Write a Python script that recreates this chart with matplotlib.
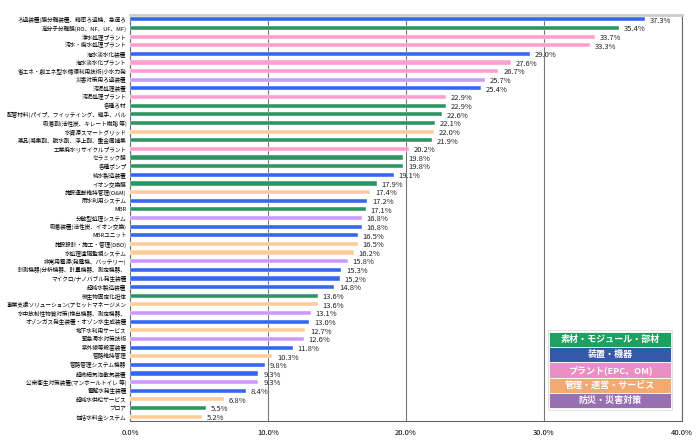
import matplotlib
matplotlib.use("Agg")
import matplotlib.pyplot as plt
from matplotlib.patches import Rectangle

plt.rcParams['font.family'] = ['Noto Sans CJK JP', 'DejaVu Sans']

labels = [
    "ろ過装置(膜分離装置、精密ろ過機、急速ろ",
    "高分子分離膜(RO、NF、UF、MF)",
    "浄水処理プラント",
    "汚水・廃水処理プラント",
    "海水淡水化装置",
    "海水淡水化プラント",
    "省エネ・創エネ型水循環利用技術(小水力発",
    "災害対策用ろ過装置",
    "汚泥処理装置",
    "汚泥処理プラント",
    "各種ろ材",
    "配管材料(パイプ、フィッティング、継手、バル",
    "吸着剤(活性炭、キレート樹脂 等)",
    "水資源スマートグリッド",
    "薬品(凝集剤、脱水剤、浮上剤、重金属捕集",
    "工業廃水リサイクルプラント",
    "セラミック膜",
    "各種ポンプ",
    "純水製造装置",
    "イオン交換膜",
    "施設運転維持管理(O&M)",
    "雨水利用システム",
    "MBR",
    "分散型処理システム",
    "吸着装置(活性炭、イオン交換)",
    "MBRユニット",
    "施設設計・施工・管理(DBO)",
    "水処理遠隔監視システム",
    "非常用電源(発電機、バッテリー)",
    "計測機器(分析機器、計量機器、測定機器、",
    "マイクロ/ナノバブル発生装置",
    "超純水製造装置",
    "微生物固定化担体",
    "事業支援ソリューション(アセットマネージメン",
    "水中放射性物質対策(検出機器、測定機器、",
    "オゾンガス発生装置・オゾン水生成装置",
    "地下水利用サービス",
    "緊急濁水対策技術",
    "紫外線等殺菌装置",
    "管路維持管理",
    "管路管理システム機器",
    "超微細気泡散気装置",
    "公衆衛生対策装置(マンホールトイレ 等)",
    "電解水発生装置",
    "超純水供給サービス",
    "ブロア",
    "包括水料金システム",
]
values = [37.3, 35.4, 33.7, 33.3, 29.0, 27.6, 26.7, 25.7, 25.4, 22.9,
          22.9, 22.6, 22.1, 22.0, 21.9, 20.2, 19.8, 19.8, 19.1, 17.9,
          17.4, 17.2, 17.1, 16.8, 16.8, 16.5, 16.5, 16.2, 15.8, 15.3,
          15.2, 14.8, 13.6, 13.6, 13.1, 13.0, 12.7, 12.6, 11.8, 10.3,
          9.8, 9.3, 9.3, 8.4, 6.8, 5.5, 5.2]
# category of each item: M=素材, D=装置, P=プラント, S=サービス, B=防災
cats = ["D", "M", "P", "P", "D", "P", "P", "B", "D", "P",
        "M", "M", "M", "S", "M", "P", "M", "M", "D", "M",
        "S", "D", "M", "B", "D", "D", "S", "S", "B", "D",
        "D", "D", "M", "S", "B", "D", "S", "B", "D", "S",
        "D", "D", "B", "D", "S", "M", "S"]

bar_colors = {"M": "#2e9463", "D": "#3366f2", "P": "#ff9ed0",
              "S": "#ffcc99", "B": "#cc99ff"}
legend_names = ["素材・モジュール・部材", "装置・機器", "プラント(EPC、OM)",
                "管理・運営・サービス", "防災・災害対策"]
legend_colors = ["#1fa060", "#3558a8", "#ea8fc2", "#f2aa72", "#9670b0"]

fig = plt.figure(figsize=(7, 4.4), dpi=100)
ax = fig.add_axes([130 / 700, 1 - 421 / 440, 552 / 700, 406 / 440])

y = list(range(len(labels)))
ax.barh(y, values, height=0.48, color=[bar_colors[c] for c in cats],
        edgecolor="white", linewidth=0.3, zorder=3)
for yi, v in zip(y, values):
    ax.text(v + 0.35, yi + 0.15, f"{v:.1f}%", fontsize=5.5, va="center",
            ha="left", color="#222222", zorder=4)

ax.set_ylim(len(labels) - 0.5, -0.5)
ax.set_xlim(0, 40)
ax.set_xticks([0, 10, 20, 30, 40])
ax.set_xticklabels(["0.0%", "10.0%", "20.0%", "30.0%", "40.0%"], fontsize=5.5)
ax.set_yticks(y)
ax.set_yticklabels(labels, fontsize=4.1)
ax.tick_params(axis="y", length=0, pad=2.5)
ax.tick_params(axis="x", length=0, pad=6)
ax.grid(axis="x", color="#777777", linewidth=0.8, zorder=1)
for s in ax.spines.values():
    s.set_color("#666666")
    s.set_linewidth(0.8)
ax.spines["top"].set_color("#cccccc")
ax.spines["top"].set_linewidth(2)

# legend block
lx, lw, lh = 549 / 700, 122 / 700, 15.2 / 440
ly0 = 1 - 332 / 440
fig.patches.append(Rectangle((lx - 0.002, ly0 - 5 * lh - 0.004), lw + 0.004, 5 * lh + 0.008,
                             transform=fig.transFigure, facecolor="white",
                             edgecolor="#dddddd", linewidth=0.6, zorder=5))
for i, (name, col) in enumerate(zip(legend_names, legend_colors)):
    top = ly0 - i * lh
    fig.patches.append(Rectangle((lx, top - lh), lw, lh, transform=fig.transFigure,
                                 facecolor=col, edgecolor="white", linewidth=0.6,
                                 zorder=6))
    fig.text(lx + lw / 2, top - lh / 2, name, color="white", fontsize=6.5,
             fontweight="bold", ha="center", va="center", zorder=7)

fig.savefig("out.png", dpi=100)
